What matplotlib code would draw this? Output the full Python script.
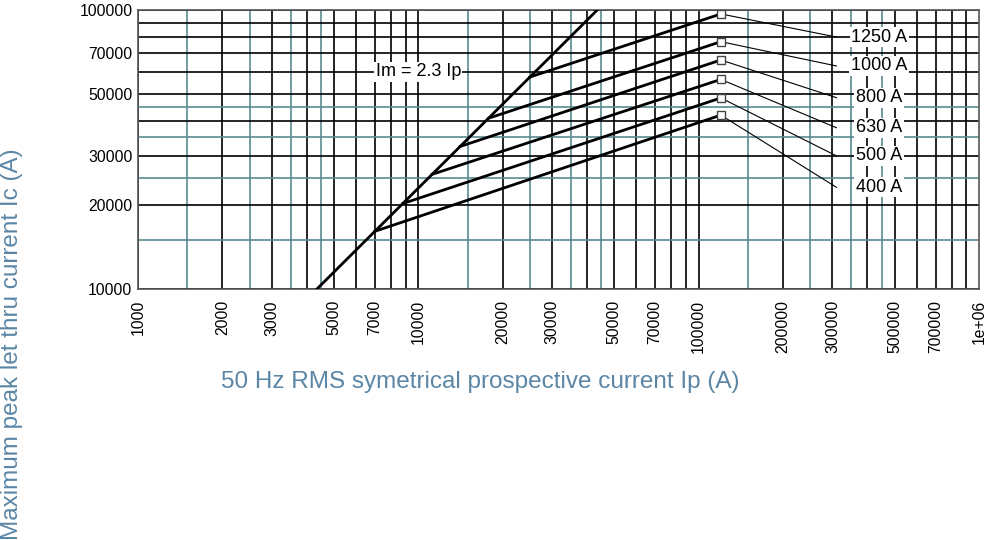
import matplotlib.pyplot as plt
import numpy as np

plt.rcParams['font.family'] = ['Liberation Sans', 'DejaVu Sans']

# fuse ratings
ratings = ['400 A', '500 A', '630 A', '800 A', '1000 A', '1250 A']

# knee points on the Im = 2.3 Ip line
knee_ip = [7000, 8800, 11200, 14100, 17800, 25000]
knee_ic = [16100, 20240, 25760, 32430, 40940, 57500]

# end points (square markers)
end_ip = [120000, 120000, 120000, 120000, 120000, 120000]
end_ic = [42000, 48400, 56400, 66200, 77000, 96800]

# label positions
lead_ip = 310000
label_ip = 440000
label_ic = [23150, 30000, 37850, 48500, 63000, 80000]

# Im = 2.3 Ip line
im_ip = [4000, 50000]
im_ic = [9200, 115000]

# tick labels
xticks = [1000, 2000, 3000, 5000, 7000, 10000, 20000, 30000, 50000, 70000,
          100000, 200000, 300000, 500000, 700000, 1000000]
xlabels = ['1000', '2000', '3000', '5000', '7000', '10000', '20000', '30000',
           '50000', '70000', '100000', '200000', '300000', '500000', '700000', '1e+06']
yticks = [10000, 20000, 30000, 50000, 70000, 100000]
ylabels = ['10000', '20000', '30000', '50000', '70000', '100000']

teal = '#5a8a90'
blue = '#5b86a6'

fig = plt.figure(figsize=(9.87, 5.4), dpi=100)
ax = fig.add_axes([138/987, 1 - 289/540, (979 - 138)/987, (289 - 10)/540])
ax.set_xscale('log')
ax.set_yscale('log')
ax.set_xlim(1000, 1000000)
ax.set_ylim(10000, 100000)

# grid: black at 1..9 x 10^n, teal at 1.5, 2.5, 3.5, 4.5 x 10^n
for dec in [1000, 10000, 100000]:
    for m in [1.5, 2.5, 3.5, 4.5]:
        ax.axvline(m * dec, color=teal, lw=1.2, zorder=1)
    for m in range(1, 10):
        ax.axvline(m * dec, color='black', lw=1.2, zorder=1)
for m in [1.5, 2.5, 3.5, 4.5]:
    ax.axhline(m * 10000, color=teal, lw=1.2, zorder=1)
for m in range(1, 11):
    ax.axhline(m * 10000, color='black', lw=1.2, zorder=1)

ax.plot(im_ip, im_ic, color='black', lw=2, zorder=3)
ax.text(10000, 60000, 'Im = 2.3 Ip', ha='center', va='center', fontsize=13,
        bbox=dict(facecolor='white', edgecolor='none', pad=1), zorder=4)

for i in range(len(ratings)):
    ax.plot([knee_ip[i], end_ip[i]], [knee_ic[i], end_ic[i]], color='black', lw=2, zorder=3)
    ax.plot(end_ip[i], end_ic[i], marker='s', ms=6, mfc='white', mec='#444444', mew=1, zorder=5)
    ax.plot([end_ip[i], lead_ip], [end_ic[i], label_ic[i]], color='black', lw=0.8, zorder=3)
    ax.text(label_ip, label_ic[i], ratings[i], ha='center', va='center', fontsize=13,
            bbox=dict(facecolor='white', edgecolor='none', pad=1), zorder=4)

ax.set_xticks(xticks)
ax.set_xticklabels(xlabels, rotation=90, fontsize=11.3)
ax.set_xticks([], minor=True)
ax.set_yticks(yticks)
ax.set_yticklabels(ylabels, fontsize=11.3)
ax.set_yticks([], minor=True)
ax.tick_params(axis='both', length=0)
ax.tick_params(axis='x', pad=8)
ax.tick_params(axis='y', pad=4)
for s in ax.spines.values():
    s.set_color('#555555')
    s.set_linewidth(1.2)

fig.text(480/987, 1 - 382/540, '50 Hz RMS symetrical prospective current Ip (A)',
         ha='center', va='center', fontsize=17.5, color=blue)
fig.text(12/987, 1 - 344/540, 'Maximum peak let thru current Ic (A)',
         ha='center', va='center', rotation=90, fontsize=17.5, color=blue)

fig.savefig('out.png', dpi=100)
